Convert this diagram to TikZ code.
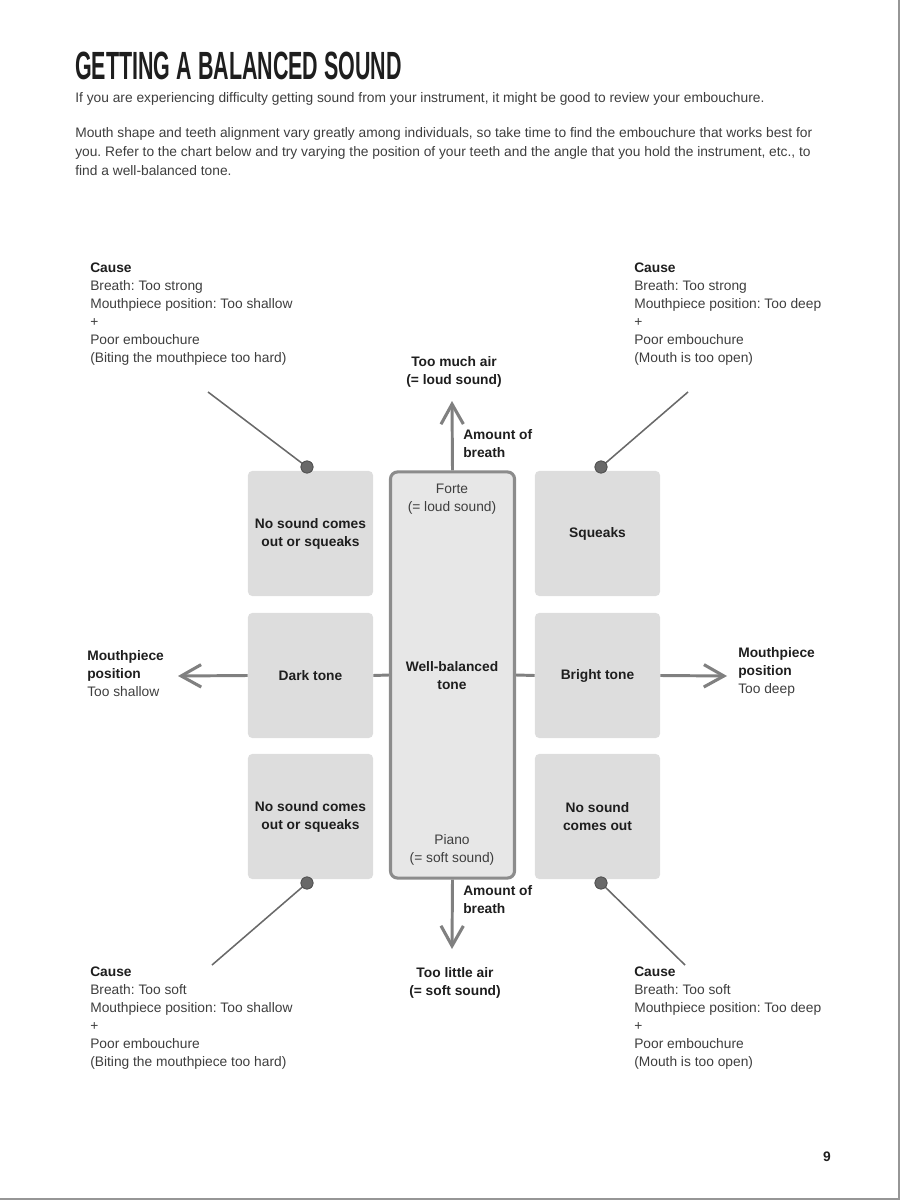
\documentclass[tikz,border=0pt]{standalone}
\usepackage{fontspec}
\setmainfont{Liberation Sans}
\newfontfamily\headfont{Liberation Sans}[FakeStretch=0.545]
\usepackage{xcolor}
\usepackage{tikz}
\usetikzlibrary{arrows.meta,positioning}
\frenchspacing
\definecolor{inkdark}{RGB}{30,30,30}
\definecolor{inkgray}{RGB}{62,62,62}
\definecolor{tonefill}{RGB}{221,221,221}
\definecolor{centerfill}{RGB}{231,231,231}
\definecolor{centerline}{RGB}{140,140,140}
\definecolor{arrowgray}{RGB}{128,128,128}
\definecolor{pingray}{RGB}{105,105,105}
\definecolor{edgegray}{RGB}{150,150,150}
\newcommand{\lblfont}{\fontsize{9.8}{12.8}\selectfont}
\newcommand{\parfont}{\fontsize{9.8}{13.5}\selectfont}
\tikzset{
  tonebox/.style={
    rounded corners=3pt, fill=tonefill, align=center, inner sep=2pt,
    minimum width=3.125cm, minimum height=3.125cm,
    font=\lblfont\bfseries, text=inkdark},
  centerbox/.style={
    rounded corners=5pt, draw=centerline, fill=centerfill, line width=2.2pt,
    minimum width=3.1cm, minimum height=10.15cm},
  boldlbl/.style={font=\lblfont\bfseries, text=inkdark, align=center, inner sep=0pt},
  softlbl/.style={font=\lblfont, text=inkgray, align=center, inner sep=0pt},
  causetxt/.style={font=\lblfont, text=inkgray, align=left, anchor=north west, inner sep=0pt},
  sidelbl/.style={font=\lblfont, text=inkgray, align=left, anchor=west, inner sep=0pt},
  % arrow "lanes"
  breathflow/.style={-{Straight Barb[length=5mm,width=5.6mm,line width=2.2pt]}, arrowgray, line width=2.1pt},
  joinline/.style={arrowgray, line width=2.1pt},
  pinline/.style={pingray, line width=1.1pt},
  pindot/.style={circle, fill=pingray, draw=pingray!80!black, line width=0.6pt,
    inner sep=0pt, minimum size=0.3cm},
}

\begin{document}
\begin{tikzpicture}[x=0.025cm, y=-0.025cm]
\useasboundingbox (0,0) rectangle (900,1200);
\draw[edgegray, line width=0.8pt] (899,0) -- (899,1199) -- (0,1199);

% ---------- heading ----------
\node[anchor=base west, inner sep=0pt, text=inkdark, font=\headfont\bfseries\fontsize{28}{30}\selectfont]
  (title) at (75,80) {GETTING A BALANCED SOUND};
\node[anchor=base west, inner sep=0pt, text=inkgray, font=\parfont] (intro) at (75,103)
  {If you are experiencing difficulty getting sound from your instrument, it might be good to review your embouchure.};
\node[anchor=north west, inner sep=0pt, text=inkgray, font=\parfont, align=left] (advice) at (75,127)
  {Mouth shape and teeth alignment vary greatly among individuals, so take time to find the embouchure that works best for\\
   you. Refer to the chart below and try varying the position of your teeth and the angle that you hold the instrument, etc., to\\
   find a well-balanced tone.};

% ---------- tone boxes ----------
\node[centerbox] (mid) at (452.5,675) {};
\node[tonebox] (TL) at (310.5,533.5) {No sound comes\\out or squeaks};
\node[tonebox] (ML) at (310.5,675.5) {Dark tone};
\node[tonebox] (BL) at (310.5,816.5) {No sound comes\\out or squeaks};
\node[tonebox] (TR) at (597.5,533.5) {Squeaks};
\node[tonebox] (MR) at (597.5,675.5) {Bright tone};
\node[tonebox] (BR) at (597.5,816.5) {No sound\\comes out};

\node[softlbl] (forte) at (452,499) {Forte\\(= loud sound)};
\node[boldlbl] (wellbal) at (452,676) {Well-balanced\\tone};
\node[softlbl] (piano) at (452,850) {Piano\\(= soft sound)};

% ---------- breath axis ----------
\node[boldlbl] (loud) at (454,372) {Too much air\\(= loud sound)};
\node[boldlbl] (soft) at (455,983) {Too little air\\(= soft sound)};
\coordinate (uptip) at (452,401);
\coordinate (downtip) at (452,949);
\draw[breathflow] (mid.north) -- (uptip);
\draw[breathflow] (mid.south) -- (downtip);
\node[boldlbl, align=left, anchor=west] (breathup) at (463,444) {Amount of\\breath};
\node[boldlbl, align=left, anchor=west] (breathdown) at (463,900) {Amount of\\breath};

% ---------- mouthpiece axis ----------
\coordinate (lefttip) at (178,676);
\coordinate (righttip) at (727,676);
\draw[joinline] (ML.east) -- (mid.west);
\draw[joinline] (MR.west) -- (mid.east);
\draw[breathflow] (ML.west) -- (lefttip);
\draw[breathflow] (MR.east) -- (righttip);
\node[sidelbl] (shallow) at (87,674) {\textbf{\textcolor{inkdark}{Mouthpiece}}\\\textbf{\textcolor{inkdark}{position}}\\Too shallow};
\node[sidelbl] (deep) at (738,672) {\textbf{\textcolor{inkdark}{Mouthpiece}}\\\textbf{\textcolor{inkdark}{position}}\\Too deep};

% ---------- causes ----------
\node[causetxt] (causeTL) at (90,263) {\textbf{\textcolor{inkdark}{Cause}}\\Breath: Too strong\\Mouthpiece position: Too shallow\\+\\Poor embouchure\\(Biting the mouthpiece too hard)};
\node[causetxt] (causeTR) at (634,263) {\textbf{\textcolor{inkdark}{Cause}}\\Breath: Too strong\\Mouthpiece position: Too deep\\+\\Poor embouchure\\(Mouth is too open)};
\node[causetxt] (causeBL) at (90,967) {\textbf{\textcolor{inkdark}{Cause}}\\Breath: Too soft\\Mouthpiece position: Too shallow\\+\\Poor embouchure\\(Biting the mouthpiece too hard)};
\node[causetxt] (causeBR) at (634,967) {\textbf{\textcolor{inkdark}{Cause}}\\Breath: Too soft\\Mouthpiece position: Too deep\\+\\Poor embouchure\\(Mouth is too open)};

\coordinate (pinTL) at (208,392);
\coordinate (pinTR) at (688,392);
\coordinate (pinBL) at (212,965);
\coordinate (pinBR) at (685,965);
\node[pindot] (dotTL) at (307,467) {};
\node[pindot] (dotTR) at (601,467) {};
\node[pindot] (dotBL) at (307,883) {};
\node[pindot] (dotBR) at (601,883) {};
\foreach \p in {TL, TR, BL, BR}{
  \draw[pinline] (pin\p) -- (dot\p.center);}
\foreach \p in {TL, TR, BL, BR}{
  \node[pindot] at (dot\p) {};}

% ---------- page number ----------
\node[boldlbl] (folio) at (827,1157) {9};

\end{tikzpicture}
\end{document}
